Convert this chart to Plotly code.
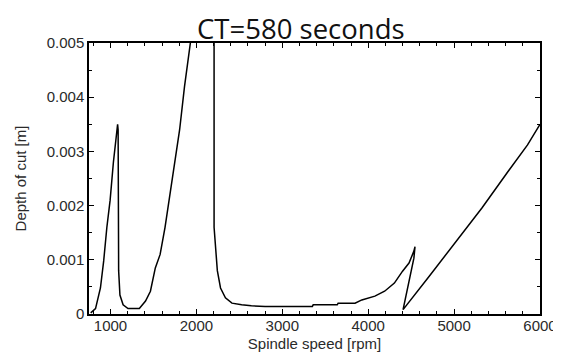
import plotly.graph_objects as go

# Stability lobe data
spindle_speed = [770, 826, 883, 921, 958, 996, 1034, 1072, 1083, 1089, 1092, 1095, 1110, 1147, 1204,
                 1336, 1408, 1465, 1522, 1578, 1635, 1692, 1748, 1805, 1862, 1900, 1930, 1960,
                 2100, 2206, 2206, 2244, 2281, 2338, 2414, 2527, 2640, 2800, 3350, 3360, 3640,
                 3650, 3847, 3926, 4078, 4191, 4305, 4400, 4475, 4532, 4545, 4532, 4456, 4406,
                 4722, 5024, 5326, 5628, 5855, 6000]
depth_of_cut = [0.00002, 0.0001, 0.00048, 0.00098, 0.0016, 0.0021, 0.0028, 0.0033, 0.0035, 0.0034, 0.0021,
                0.0008, 0.00035, 0.00017, 0.0001,
                0.0001, 0.00024, 0.00042, 0.00085, 0.0011, 0.0016, 0.0022, 0.0028, 0.0034, 0.0042,
                0.0047, 0.0050, 0.0058,
                0.012, 0.02, 0.0016, 0.0008, 0.00048, 0.0003, 0.0002, 0.00017, 0.00015, 0.00014,
                0.00014, 0.00017, 0.00017,
                0.0002, 0.0002, 0.00026, 0.00033, 0.00042, 0.00057, 0.00079, 0.00094, 0.00116,
                0.00124, 0.00103, 0.00042, 0.00008,
                0.00072, 0.00134, 0.00196, 0.00263, 0.00312, 0.0035]

x_tick_vals = [1000, 2000, 3000, 4000, 5000, 6000]
x_tick_text = ["1000", "2000", "3000", "4000", "5000", "6000"]
y_tick_vals = [0, 0.001, 0.002, 0.003, 0.004, 0.005]
y_tick_text = ["0", "0.001", "0.002", "0.003", "0.004", "0.005"]

fig = go.Figure()
fig.add_trace(go.Scatter(x=spindle_speed, y=depth_of_cut, mode="lines",
                         line=dict(color="black", width=1.5), showlegend=False))

label_font = "Liberation Sans, Arial, sans-serif"
tickfont = dict(family=label_font, size=15, color="#2a2a2a")
axis_common = dict(showgrid=False, zeroline=False, showline=True, linecolor="black", linewidth=1.5,
                   mirror="ticks", ticks="inside", ticklen=5, tickwidth=1.3, tickcolor="black",
                   tickfont=tickfont, ticklabeloverflow="allow")

fig.update_layout(
    width=561, height=360,
    margin=dict(l=80, r=16, t=35, b=54),
    paper_bgcolor="white", plot_bgcolor="white",
    title=dict(text="CT=580 seconds", xref="container", x=0.522, xanchor="center",
               yref="container", y=0.942, yanchor="middle",
               font=dict(family="Open Sans", size=27.5, color="#111")),
    xaxis=dict(range=[750, 6000], tickvals=x_tick_vals, ticktext=x_tick_text,
               ticklabelstandoff=-3,
               minor=dict(dtick=200, tick0=0, ticks="inside", ticklen=3, tickcolor="black"),
               title=dict(text="Spindle speed [rpm]", font=dict(family=label_font, size=15, color="#2a2a2a"),
                          standoff=6),
               **axis_common),
    yaxis=dict(range=[0, 0.005], tickvals=y_tick_vals, ticktext=y_tick_text,
               minor=dict(dtick=0.0005, tick0=0, ticks="inside", ticklen=3, tickcolor="black"),
               title=dict(text="Depth of cut [m]", font=dict(family=label_font, size=15, color="#2a2a2a"),
                          standoff=16),
               **axis_common),
)

fig.write_html("out.html")
